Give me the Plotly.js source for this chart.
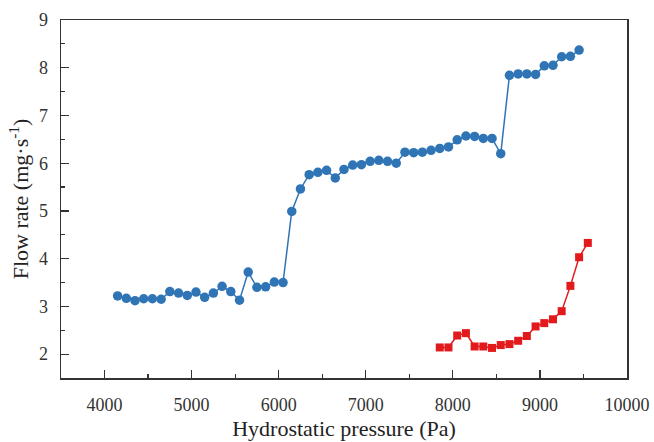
<!DOCTYPE html>
<html>
<head>
<meta charset="utf-8">
<script src="https://cdn.plot.ly/plotly-3.0.1.min.js"></script>
<style>html,body{margin:0;padding:0;background:#fff;}#chart{width:654px;height:442px;}</style>
</head>
<body>
<div id="chart"></div>
<script>
// Blue series (circles)
var bluePressure = [4150,4250,4350,4450,4550,4650,4750,4850,4950,5050,5150,5250,5350,5450,5550,5650,5750,5850,5950,6050,
  6150,6250,6350,6450,6550,6650,6750,6850,6950,7050,7150,7250,7350,7450,7550,7650,7750,7850,7950,8050,
  8150,8250,8350,8450,8550,8650,8750,8850,8950,9050,9150,9250,9350,9450];
var blueFlow = [3.22,3.17,3.12,3.16,3.16,3.15,3.31,3.28,3.23,3.30,3.19,3.28,3.42,3.31,3.13,3.72,3.40,3.41,3.51,3.50,
  4.99,5.46,5.76,5.81,5.85,5.69,5.87,5.96,5.97,6.04,6.06,6.04,6.00,6.23,6.22,6.23,6.27,6.31,6.34,6.49,
  6.57,6.56,6.52,6.52,6.20,7.84,7.87,7.87,7.86,8.04,8.05,8.23,8.24,8.37];
// Red series (squares)
var redPressure = [7850,7950,8050,8150,8250,8350,8450,8550,8650,8750,8850,8950,9050,9150,9250,9350,9450,9550];
var redFlow = [2.14,2.14,2.39,2.44,2.16,2.16,2.13,2.19,2.21,2.28,2.38,2.58,2.65,2.73,2.90,3.43,4.03,4.33];

var xTitle = 'Hydrostatic pressure (Pa)';
var yTitle = 'Flow rate (mg·s<sup>-1</sup>)';

var serif = 'Liberation Serif, "Times New Roman", serif';

var traces = [
  {x: bluePressure, y: blueFlow, type: 'scatter', mode: 'lines+markers',
   line: {color: '#2f75b6', width: 1.5},
   marker: {symbol: 'circle', size: 9.5, color: '#2f75b6'}},
  {x: redPressure, y: redFlow, type: 'scatter', mode: 'lines+markers',
   line: {color: '#e31a1c', width: 1.5},
   marker: {symbol: 'square', size: 8, color: '#e31a1c'}}
];

var axisCommon = {
  showgrid: false, zeroline: false, showline: true, mirror: true,
  linecolor: '#333', linewidth: 1.5,
  ticks: 'inside', ticklen: 8, tickwidth: 1.2, tickcolor: '#333',
  tickfont: {family: serif, size: 18, color: '#333'}
};

var layout = {
  width: 654, height: 442,
  margin: {l: 61, r: 27, t: 20, b: 64},
  paper_bgcolor: '#fff', plot_bgcolor: '#fff',
  showlegend: false,
  font: {family: serif, color: '#222'},
  xaxis: Object.assign({}, axisCommon, {
    range: [3500, 10000], tick0: 4000, dtick: 1000, tickformat: 'd',
    ticklabelstandoff: 10,
    minor: {dtick: 500, ticks: 'inside', ticklen: 4, tickcolor: '#333', tickwidth: 1.2},
    title: {text: xTitle, font: {family: serif, size: 22, color: '#222'}, standoff: 6}
  }),
  yaxis: Object.assign({}, axisCommon, {
    range: [1.5, 9], tick0: 2, dtick: 1,
    ticklabelstandoff: 8,
    minor: {dtick: 0.5, ticks: 'inside', ticklen: 4, tickcolor: '#333', tickwidth: 1.2},
    title: {text: yTitle, font: {family: serif, size: 22, color: '#222'}, standoff: 4}
  })
};

Plotly.newPlot('chart', traces, layout, {displayModeBar: false, staticPlot: true});
</script>
</body>
</html>
